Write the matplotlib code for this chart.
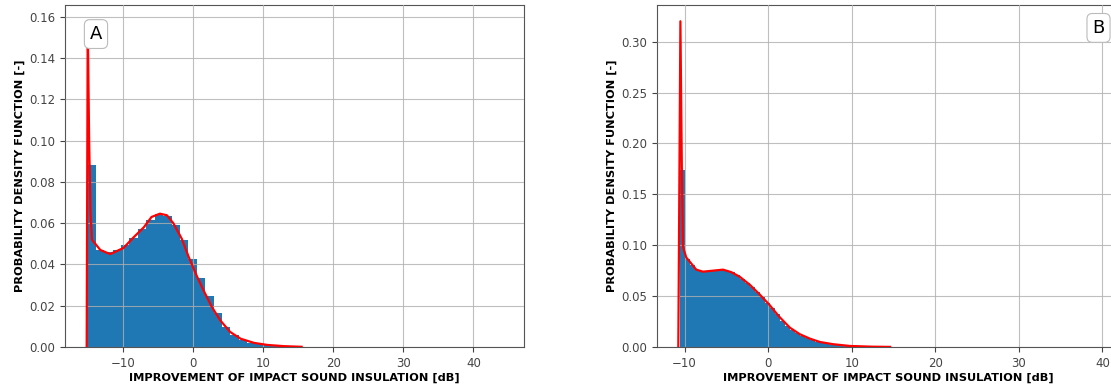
import numpy as np
import matplotlib
matplotlib.use("Agg")
import matplotlib.pyplot as plt

# --- panel A: histogram (bin width 1.2 dB) and fitted pdf ---
a_bin_start = -15.05
a_bin_width = 1.2
a_heights = [0.088, 0.0468, 0.0458, 0.0468, 0.0492, 0.0527, 0.0572, 0.0617, 0.0642,
             0.0636, 0.0592, 0.0518, 0.0428, 0.0335, 0.0245, 0.0163, 0.0098, 0.0057,
             0.0034, 0.0021, 0.0013, 0.0008, 0.0005, 0.0003, 0.0002, 0.0001]
a_pdf_x = [-15.15, -15.0, -14.8, -14.6, -14.4, -13.2, -11.8, -9.9, -8.5, -7.0, -5.9,
           -4.7, -3.7, -2.8, -1.6, -0.6, 0.6, 1.5, 2.7, 3.9, 5.3, 6.8, 8.7, 10.6,
           13.0, 15.5]
a_pdf_y = [0.0, 0.158, 0.10, 0.065, 0.052, 0.047, 0.045, 0.048, 0.053, 0.058, 0.063,
           0.0646, 0.0638, 0.060, 0.0525, 0.0436, 0.034, 0.0275, 0.0194, 0.0129,
           0.0073, 0.004, 0.002, 0.001, 0.0004, 0.0001]

# --- panel B: histogram (bin width 0.6 dB) and fitted pdf ---
b_bin_start = -10.6
b_bin_width = 0.6
b_heights = [0.174, 0.086, 0.081, 0.076, 0.074, 0.074, 0.075, 0.0755, 0.076, 0.075,
             0.0735, 0.071, 0.067, 0.063, 0.059, 0.054, 0.049, 0.0435, 0.038, 0.032,
             0.026, 0.021, 0.017, 0.0135, 0.0108, 0.0088, 0.0068, 0.0052, 0.004,
             0.0031, 0.0024, 0.0018, 0.0013, 0.001, 0.0008, 0.0006, 0.0004, 0.0003,
             0.0002, 0.0002, 0.0001, 0.0001]
b_pdf_x = [-10.75, -10.5, -10.33, -10.18, -9.8, -9.2, -8.6, -7.8, -6.6, -5.4, -4.4,
           -3.4, -2.2, -1.0, 0.2, 1.3, 2.6, 3.8, 5.0, 6.2, 7.8, 9.8, 12.5, 14.6]
b_pdf_y = [0.0, 0.32, 0.177, 0.098, 0.088, 0.082, 0.076, 0.074, 0.075, 0.076, 0.0735,
           0.069, 0.0612, 0.0515, 0.041, 0.030, 0.019, 0.0125, 0.0082, 0.0049, 0.0027,
           0.001, 0.0003, 0.0001]

panels = [
    ("A", a_bin_start, a_bin_width, a_heights, a_pdf_x, a_pdf_y),
    ("B", b_bin_start, b_bin_width, b_heights, b_pdf_x, b_pdf_y),
]

W, H = 1111, 392
fig = plt.figure(figsize=(W / 100, H / 100), dpi=100)

# axes boxes in pixels: left, right, top, bottom
boxes = [(65, 524, 5, 347), (657, 1120, 5, 347)]
xlims = [(-18.24, 47.2), (-13.3, 42.1)]
ylims = [(0, 0.1657), (0, 0.336)]
yticks = [np.arange(0, 0.161, 0.02), np.arange(0, 0.301, 0.05)]
label_pos = [(0.0675, 0.915), (0.9536, 0.933)]

for i, (name, start, width, heights, px, py) in enumerate(panels):
    l, r, t, b = boxes[i]
    ax = fig.add_axes([l / W, (H - b) / H, (r - l) / W, (b - t) / H])
    edges = start + width * np.arange(len(heights))
    ax.bar(edges, heights, width=width, align="edge", color="#1f77b4", zorder=2)
    ax.plot(px, py, color="red", lw=1.6, zorder=3)
    ax.set_xlim(*xlims[i])
    ax.set_ylim(*ylims[i])
    ax.set_xticks([-10, 0, 10, 20, 30, 40])
    ax.set_yticks(yticks[i])
    ax.set_axisbelow(False)
    ax.grid(True, color="#b0b0b0", alpha=0.8)
    ax.tick_params(labelsize=8.5, colors="#444444")
    ax.set_xlabel("IMPROVEMENT OF IMPACT SOUND INSULATION [dB]", fontsize=8.2,
                  fontweight="bold", labelpad=2)
    ax.set_ylabel("PROBABILITY DENSITY FUNCTION [-]", fontsize=8.2,
                  fontweight="bold", labelpad=3)
    ax.text(label_pos[i][0], label_pos[i][1], name, transform=ax.transAxes,
            ha="center", va="center", fontsize=13, zorder=5,
            bbox=dict(boxstyle="round,pad=0.3", fc="white", ec="#bbbbbb", lw=0.8))
    for s in ax.spines.values():
        s.set_color("#555555")

fig.savefig("out.png", dpi=100)
